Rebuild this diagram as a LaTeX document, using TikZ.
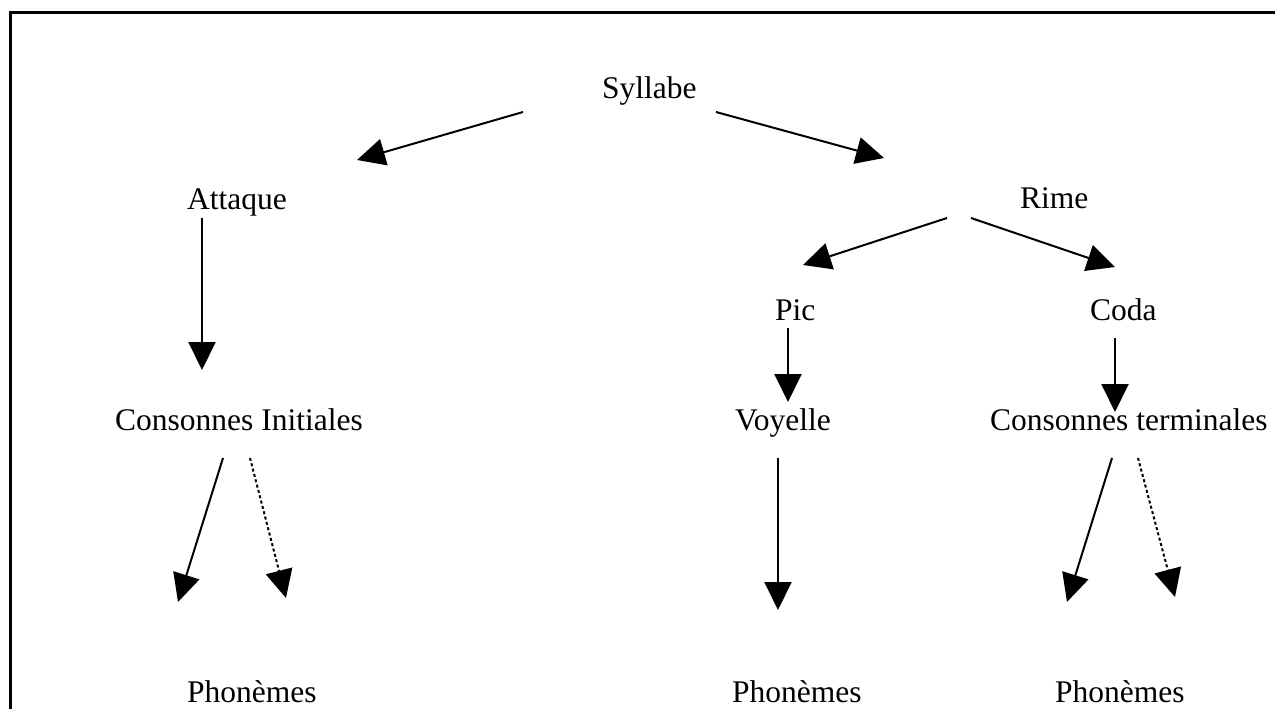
\documentclass[tikz,border=0pt]{standalone}
\usepackage{fontspec}
\setmainfont{Liberation Serif}
\usetikzlibrary{arrows.meta}
\begin{document}
\begin{tikzpicture}[x=1pt,y=-1pt,
  lbl/.style={anchor=base west,inner sep=0pt,font=\fontsize{31.5}{36}\selectfont},
  arr/.style={line width=2pt,-{Triangle[length=28pt,width=27pt]}},
  dotarr/.style={arr,dash pattern=on 3pt off 2.5pt}]
\useasboundingbox (0,0) rectangle (1275,709);
\clip (0,0) rectangle (1275,709);
\fill[white] (0,0) rectangle (1275,709);
\draw[line width=2.5pt] (10.5,12.5) rectangle (1300,740);
% labels
\node[lbl] (syl) at (602,99) {Syllabe};
\node[lbl] (att) at (187,209) {Attaque};
\node[lbl] (rime) at (1020,208) {Rime};
\node[lbl] (pic) at (775,320) {Pic};
\node[lbl] (coda) at (1090,320) {Coda};
\node[lbl] (ci) at (115,430) {Consonnes Initiales};
\node[lbl] (voy) at (735,430) {Voyelle};
\node[lbl] (ct) at (990,430) {Consonnes terminales};
\node[lbl] (ph1) at (187,702) {Phonèmes};
\node[lbl] (ph2) at (732,702) {Phonèmes};
\node[lbl] (ph3) at (1055,702) {Phonèmes};
% connector end points
\coordinate (s1) at (523,112); \coordinate (t1) at (357,160);
\coordinate (s2) at (716,112); \coordinate (t2) at (884,158);
\coordinate (s3) at (202,218); \coordinate (t3) at (202,370);
\coordinate (s4) at (947,218); \coordinate (t4) at (803,265);
\coordinate (s5) at (971,218); \coordinate (t5) at (1115,267);
\coordinate (s6) at (788,328); \coordinate (t6) at (788,402);
\coordinate (s7) at (1115,338); \coordinate (t7) at (1115,412);
\coordinate (s8) at (223,458); \coordinate (t8) at (178,602);
\coordinate (s9) at (250,458); \coordinate (t9) at (286,598);
\coordinate (s10) at (778,458); \coordinate (t10) at (778,610);
\coordinate (s11) at (1112,458); \coordinate (t11) at (1067,602);
\coordinate (s12) at (1138,458); \coordinate (t12) at (1175,597);
\draw[arr] (s1) -- (t1);
\draw[arr] (s2) -- (t2);
\draw[arr] (s3) -- (t3);
\draw[arr] (s4) -- (t4);
\draw[arr] (s5) -- (t5);
\draw[arr] (s6) -- (t6);
\draw[arr] (s7) -- (t7);
\draw[arr] (s8) -- (t8);
\draw[dotarr] (s9) -- (t9);
\draw[arr] (s10) -- (t10);
\draw[arr] (s11) -- (t11);
\draw[dotarr] (s12) -- (t12);
\end{tikzpicture}
\end{document}
